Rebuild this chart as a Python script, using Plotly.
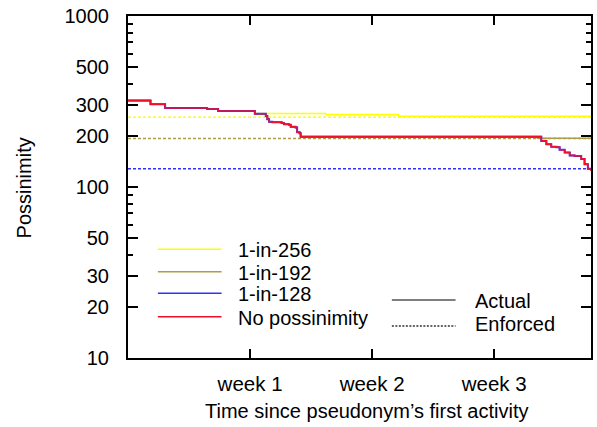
import plotly.graph_objects as go

# ---- data (time in days since first activity, possinimity values) ----
x_max_days = 26.55
week_ticks = [7, 14, 21]
week_labels = ["week 1", "week 2", "week 3"]
y_major = [10, 20, 30, 50, 100, 200, 300, 500, 1000]
y_minor = [40, 60, 70, 80, 90, 400, 600, 700, 800, 900]

# No possinimity (actual)
red_t = [0, 1.29, 2.13, 4.54, 5.17, 7.27, 7.84, 7.90, 7.99, 8.09, 8.27, 8.81, 8.94,
         9.23, 9.33, 9.61, 9.70, 9.84, 9.90, 23.47, 23.70, 23.99, 24.27, 24.56,
         24.75, 25.04, 25.33, 25.61, 25.99, 26.18, 26.37, 26.55]
red_v = [320, 305, 290, 286, 278, 268, 268, 260, 249, 241, 239, 237, 233,
         231, 225, 223, 209, 206, 197, 197, 186, 178, 172, 171,
         165, 159, 153, 152, 146, 136, 127, 124]

# 1-in-128 (actual), follows the unconstrained curve, floored at 128
blue_t = red_t
blue_v = [320, 305, 290, 286, 278, 268, 268, 260, 249, 241, 239, 237, 233,
          231, 225, 223, 209, 206, 197, 197, 186, 178, 172, 171,
          165, 159, 153, 152, 146, 136, 128, 128]

# 1-in-192 (actual)
olive_t = [0, 1.29, 2.13, 4.54, 5.17, 7.27, 7.84, 7.90, 7.99, 8.09, 8.27, 8.81, 8.94,
           9.23, 9.33, 9.61, 9.70, 9.84, 9.90, 23.47, 26.55]
olive_v = [320, 305, 290, 286, 278, 268, 268, 260, 249, 241, 239, 237, 233,
           231, 225, 223, 209, 206, 197, 193, 193]

# 1-in-256 (actual)
yellow_t = [0, 1.29, 2.13, 4.54, 5.17, 7.27, 11.34, 15.5, 26.55]
yellow_v = [320, 305, 290, 286, 278, 269, 265, 259, 259]

# Enforced thresholds
enf_t = [0, 26.55]
enf_256 = [256, 256]
enf_192 = [192, 192]
enf_128 = [128, 128]

YELLOW = "#ffff00"
OLIVE = "#ae9c48"
BLUE = "#3030ff"
RED = "#f0102a"
FONT = "Liberation Sans, Arial, sans-serif"

fig = go.Figure()

def add(t, v, color, dash=None, width=1.5, shape="hv"):
    fig.add_trace(go.Scatter(
        x=t, y=v, mode="lines",
        line=dict(color=color, width=width, dash=dash, shape=shape),
        showlegend=False, hoverinfo="skip"))

# enforced (dotted)
add(enf_t, enf_256, YELLOW, dash="3px,2px")
add(enf_t, enf_192, OLIVE, dash="3px,2px")
add(enf_t, enf_128, BLUE, dash="3px,2px")
# actual (solid)
add(yellow_t, yellow_v, YELLOW)
add(olive_t, olive_v, OLIVE)
add(blue_t, blue_v, BLUE, width=2)
add(red_t, red_v, RED, width=1.6)

# ---- manual legend (paper coordinates of plot area) ----
L, R, T, B = 128, 593, 16, 358
def px(x):
    return (x - L) / (R - L)
def py(y):
    return (B - y) / (B - T)

legend1 = [("1-in-256", YELLOW, 249.3), ("1-in-192", OLIVE, 271.7),
           ("1-in-128", BLUE, 293.3), ("No possinimity", RED, 316.7)]
shapes = []
annotations = []
for name, col, yy in legend1:
    shapes.append(dict(type="line", xref="paper", yref="paper",
                       x0=px(158), x1=px(222), y0=py(yy), y1=py(yy),
                       line=dict(color=col, width=1.5)))
    annotations.append(dict(text=name, xref="paper", yref="paper",
                            x=px(236), y=py(yy + 1), xanchor="left", yanchor="middle",
                            showarrow=False, font=dict(family=FONT, size=20, color="black")))

legend2 = [("Actual", None, 300, 300), ("Enforced", "2px,1.5px", 326, 322.7)]
for name, dash, yl, yt in legend2:
    shapes.append(dict(type="line", xref="paper", yref="paper",
                       x0=px(393), x1=px(457), y0=py(yl), y1=py(yl),
                       line=dict(color="#555555" if dash is None else "#333333",
                                 width=1.3, dash=dash)))
    annotations.append(dict(text=name, xref="paper", yref="paper",
                            x=px(474), y=py(yt + 1), xanchor="left", yanchor="middle",
                            showarrow=False, font=dict(family=FONT, size=20, color="black")))

# axis titles
annotations.append(dict(text="Time since pseudonym\u2019s first activity", xref="paper", yref="paper",
                        x=px(367.5), y=py(411), xanchor="center", yanchor="middle",
                        showarrow=False, font=dict(family=FONT, size=20, color="black")))
annotations.append(dict(text="Possinimity", xref="paper", yref="paper",
                        x=px(24), y=py(188), xanchor="center", yanchor="middle", textangle=-90,
                        showarrow=False, font=dict(family=FONT, size=20, color="black")))

fig.update_layout(
    width=597, height=427,
    margin=dict(l=L, r=597 - R, t=T, b=427 - B),
    paper_bgcolor="white", plot_bgcolor="white",
    font=dict(family=FONT, size=20, color="black"),
    shapes=shapes, annotations=annotations,
    showlegend=False,
)
fig.update_xaxes(
    range=[0, x_max_days], tickvals=week_ticks, ticktext=week_labels,
    ticks="inside", ticklen=9, tickwidth=2, tickcolor="black",
    showline=True, linecolor="black", linewidth=2, mirror="allticks",
    showgrid=False, zeroline=False, ticklabelstandoff=6,
    tickfont=dict(family=FONT, size=20.5, color="black"),
)
fig.update_yaxes(
    type="log", range=[1, 3], tickvals=y_major, ticktext=[str(v) for v in y_major],
    ticks="inside", ticklen=10, tickwidth=2, tickcolor="black",
    minor=dict(tickvals=y_minor, ticks="inside", ticklen=5, tickwidth=2, tickcolor="black", showgrid=False),
    showline=True, linecolor="black", linewidth=2, mirror="allticks",
    showgrid=False, zeroline=False, ticklabelstandoff=13,
    tickfont=dict(family=FONT, size=20, color="black"),
)

fig.write_html("out.html",
               config={"displayModeBar": False, "staticPlot": True},
               post_script="document.body.style.margin='0';document.body.style.overflow='hidden';")
